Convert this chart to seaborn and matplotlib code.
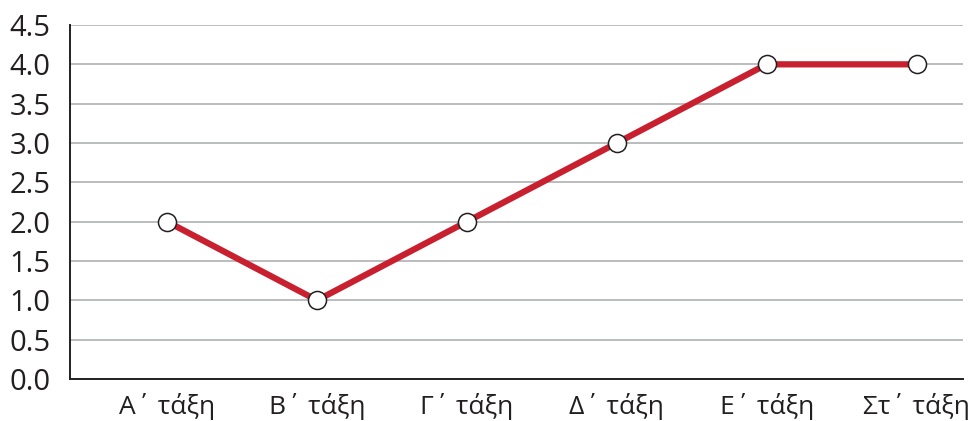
import pandas as pd
import matplotlib.pyplot as plt
import seaborn as sns

TAXEIS = ['Α΄ τάξη', 'Β΄ τάξη', 'Γ΄ τάξη', 'Δ΄ τάξη', 'Ε΄ τάξη', 'Στ΄ τάξη']
TIMES = [2.0, 1.0, 2.0, 3.0, 4.0, 4.0]
Y_TICKS = [0.0, 0.5, 1.0, 1.5, 2.0, 2.5, 3.0, 3.5, 4.0, 4.5]

KOKKINO = '#c8202f'
SKOURO = '#231f20'


def main():
    sns.set_theme(style='white')
    plt.rcParams['font.family'] = ['Open Sans', 'DejaVu Sans']

    df = pd.DataFrame({'Τάξη': TAXEIS, 'Τιμή': TIMES})

    fig = plt.figure(figsize=(9.79, 4.21), dpi=100)
    ax = fig.add_axes([0.0715, 0.0998, 0.9122, 0.8408])

    for y in Y_TICKS[1:]:
        ax.axhline(y, color='#a7a9ac', linewidth=1.1, zorder=0)

    sns.lineplot(data=df, x='Τάξη', y='Τιμή', sort=False, ax=ax,
                 color=KOKKINO, linewidth=4.5, marker='o', markersize=13,
                 markerfacecolor='white', markeredgecolor=SKOURO,
                 markeredgewidth=1.1, zorder=3)

    ax.set_xlim(-0.648, 5.31)
    ax.set_ylim(0, 4.5)
    ax.set_yticks(Y_TICKS)
    ax.set_yticklabels([f'{v:.1f}' for v in Y_TICKS])
    ax.set_xlabel('')
    ax.set_ylabel('')
    ax.tick_params(axis='both', length=0, colors=SKOURO)
    ax.tick_params(axis='y', pad=14, labelsize=21)
    ax.tick_params(axis='x', pad=10, labelsize=19)
    for lbl in ax.get_xticklabels():
        lbl.set_x(lbl.get_position()[0])

    for s in ['top', 'right']:
        ax.spines[s].set_visible(False)
    for s in ['left', 'bottom']:
        ax.spines[s].set_color(SKOURO)
        ax.spines[s].set_linewidth(1.4)

    fig.savefig('out.png', dpi=100)
    plt.close(fig)


if __name__ == '__main__':
    main()
